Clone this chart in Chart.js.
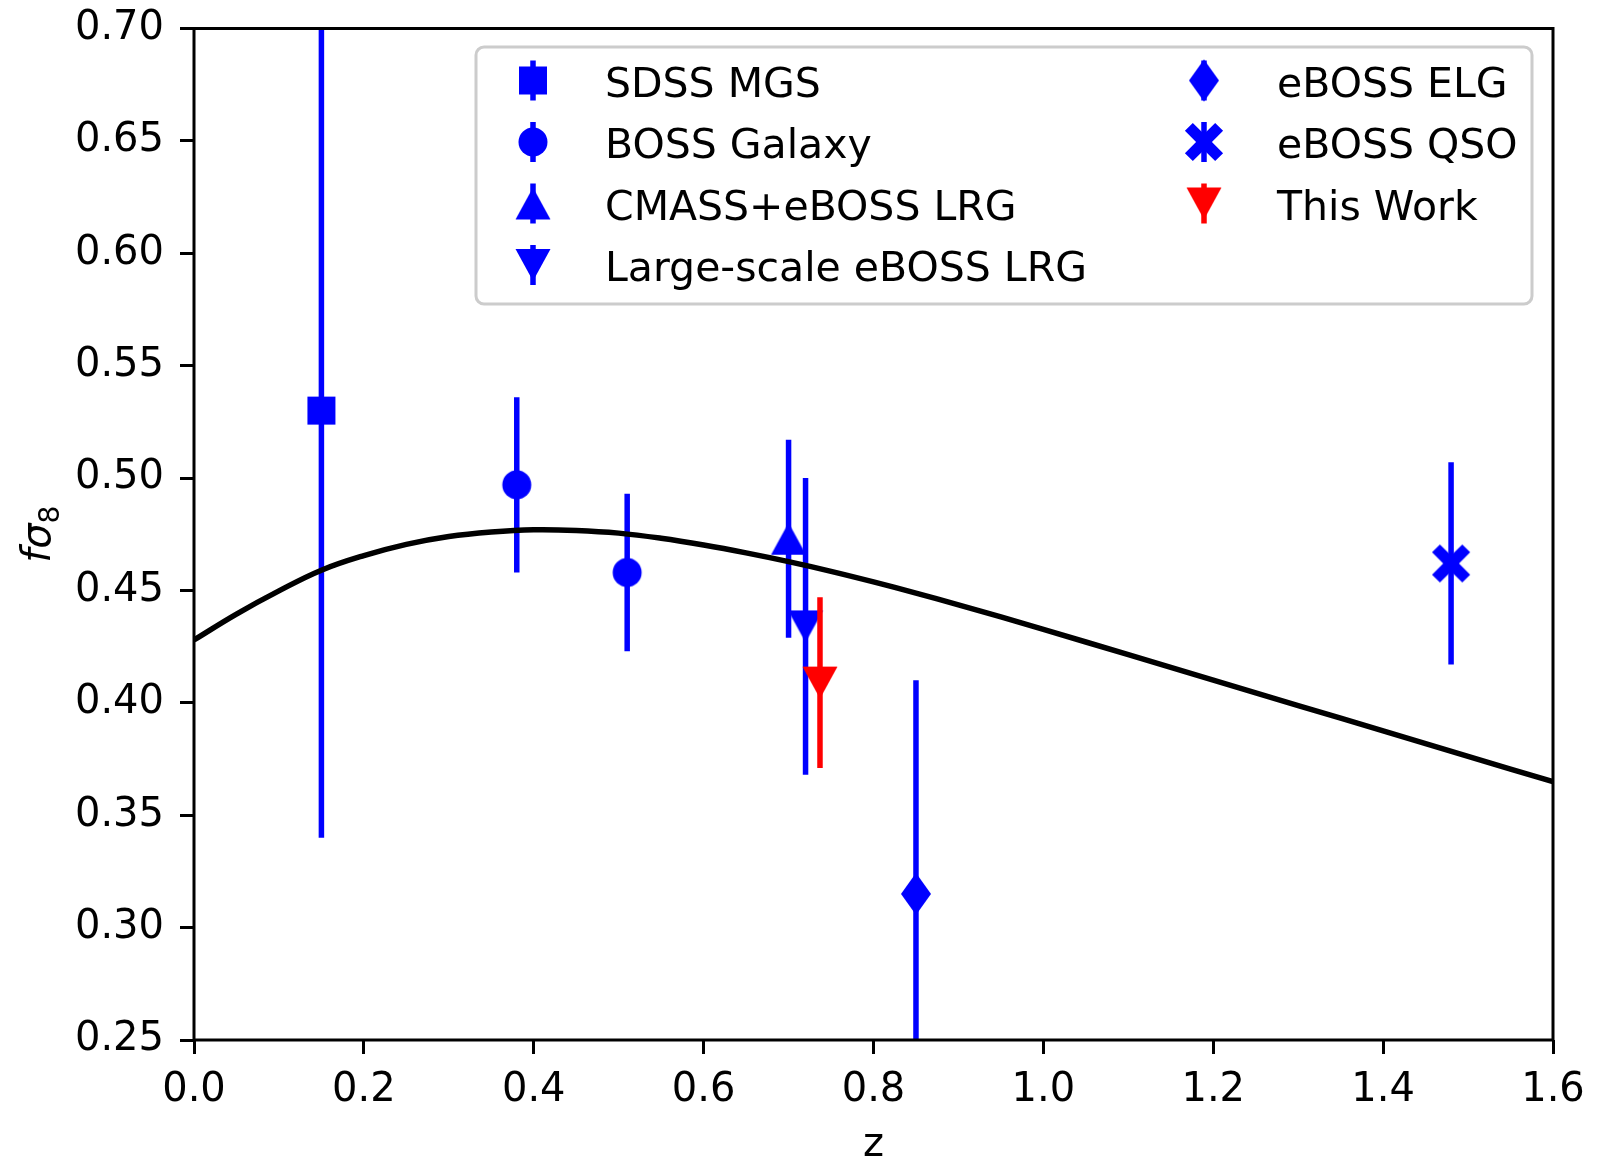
<!DOCTYPE html>
<html>
<head>
<meta charset="utf-8">
<script src="https://cdn.jsdelivr.net/npm/chart.js@4.4.1/dist/chart.umd.min.js"></script>
<style>
  html, body { margin: 0; padding: 0; background: #fff; }
  canvas { display: block; }
</style>
</head>
<body>
<canvas id="chart" width="1610" height="1158"></canvas>
<script>
// ---- data ----
const seriesNames = ['SDSS MGS', 'BOSS Galaxy', 'CMASS+eBOSS LRG', 'Large-scale eBOSS LRG', 'eBOSS ELG', 'eBOSS QSO', 'This Work'];
const seriesZ = [[0.15], [0.38, 0.51], [0.70], [0.72], [0.85], [1.48], [0.737]];
const seriesFs8 = [[0.530], [0.497, 0.458], [0.473], [0.434], [0.315], [0.462], [0.409]];
const seriesErr = [[0.19], [0.039, 0.035], [0.044], [0.066], [0.095], [0.045], [0.038]];

// LCDM prediction curve
const curveZ = [0, 0.05, 0.1, 0.15, 0.2, 0.25, 0.3, 0.35, 0.4, 0.45, 0.5, 0.55, 0.6, 0.65, 0.7, 0.75, 0.8, 0.85, 0.9, 0.95, 1.0, 1.1, 1.2, 1.3, 1.4, 1.5, 1.6];
const curveFs8 = [0.4280, 0.4395, 0.4498, 0.4590, 0.4655, 0.4705, 0.4740, 0.4760, 0.4770, 0.4767, 0.4755, 0.4732, 0.4702, 0.4667, 0.4628, 0.4585, 0.4538, 0.4488, 0.4436, 0.4382, 0.4327, 0.4214, 0.4101, 0.3988, 0.3875, 0.3762, 0.3649];

const xTicks = [0.0, 0.2, 0.4, 0.6, 0.8, 1.0, 1.2, 1.4, 1.6];
const yTicks = [0.25, 0.30, 0.35, 0.40, 0.45, 0.50, 0.55, 0.60, 0.65, 0.70];

// ---- styles ----
const COLORS = {
  blue: '#0000ff',
  red: '#ff0000',
  black: '#000000',
  legendEdge: '#cccccc',
};
const FONT = 'DejaVu Sans';
const seriesMarker = ['square', 'circle', 'triangleUp', 'triangleDown', 'thinDiamond', 'filledX', 'triangleDown'];
const seriesColor = [COLORS.blue, COLORS.blue, COLORS.blue, COLORS.blue, COLORS.blue, COLORS.blue, COLORS.red];

function makeMarker(shape, color) {
  const c = document.createElement('canvas');
  c.width = 48; c.height = 48;
  const g = c.getContext('2d');
  g.fillStyle = color;
  g.translate(24, 24);
  g.beginPath();
  if (shape === 'square') {
    g.rect(-14, -14, 28, 28);
  } else if (shape === 'circle') {
    g.arc(0, 0, 14.5, 0, Math.PI * 2);
  } else if (shape === 'triangleUp') {
    g.moveTo(0, -16); g.lineTo(17.5, 16); g.lineTo(-17.5, 16); g.closePath();
  } else if (shape === 'triangleDown') {
    g.moveTo(0, 16); g.lineTo(17.5, -16); g.lineTo(-17.5, -16); g.closePath();
  } else if (shape === 'thinDiamond') {
    g.moveTo(0, -21); g.lineTo(15, 0); g.lineTo(0, 21); g.lineTo(-15, 0); g.closePath();
  } else if (shape === 'filledX') {
    // plus shape rotated by 45 degrees
    const L = 21.4, h = 5.6;
    const pts = [[h, h], [L, h], [L, -h], [h, -h], [h, -L], [-h, -L], [-h, -h], [-L, -h], [-L, h], [-h, h], [-h, L], [h, L]];
    const r = Math.SQRT1_2;
    pts.forEach(([px, py], i) => {
      const qx = (px - py) * r, qy = (px + py) * r;
      if (i === 0) g.moveTo(qx, qy); else g.lineTo(qx, qy);
    });
    g.closePath();
  }
  g.fill();
  return c;
}

const markerImgs = seriesMarker.map((m, i) => makeMarker(m, seriesColor[i]));

// ---- datasets ----
// lower `order` is drawn on top; later series sit above earlier ones, curve above all
const datasets = [{
  label: 'model',
  data: curveZ.map((z, i) => ({ x: z, y: curveFs8[i] })),
  showLine: true,
  borderColor: COLORS.black,
  borderWidth: 5.5,
  pointRadius: 0,
  tension: 0.4,
  clip: 0,
  order: 0,
}];

seriesNames.forEach((name, i) => {
  const base = 2 * (seriesNames.length - 1 - i);
  seriesZ[i].forEach((z, j) => {
    datasets.push({
      label: name + ' err',
      data: [{ x: z, y: seriesFs8[i][j] - seriesErr[i][j] }, { x: z, y: seriesFs8[i][j] + seriesErr[i][j] }],
      showLine: true,
      borderColor: seriesColor[i],
      borderWidth: 5.5,
      borderCapStyle: 'butt',
      pointRadius: 0,
      clip: 0,
      order: base + 2,
    });
  });
  datasets.push({
    label: name,
    data: seriesZ[i].map((z, j) => ({ x: z, y: seriesFs8[i][j] })),
    showLine: false,
    pointStyle: markerImgs[i],
    pointRadius: 18,
    order: base + 1,
  });
});

// ---- frame, axis titles and legend ----
const decorPlugin = {
  id: 'decor',
  afterDatasetsDraw(chart) {
    const { ctx, chartArea: a } = chart;
    ctx.save();
    ctx.strokeStyle = COLORS.black;
    ctx.lineWidth = 3;
    ctx.strokeRect(a.left, a.top, a.right - a.left, a.bottom - a.top);
    ctx.restore();
  },
  afterDraw(chart) {
    const { ctx, chartArea: a } = chart;
    ctx.save();
    ctx.fillStyle = COLORS.black;

    // x label
    ctx.font = `40px "${FONT}"`;
    ctx.textAlign = 'center';
    ctx.textBaseline = 'alphabetic';
    ctx.fillText('z', (a.left + a.right) / 2, 1156);

    // y label: f sigma_8
    ctx.save();
    ctx.translate(50, (a.top + a.bottom) / 2);
    ctx.rotate(-Math.PI / 2);
    ctx.textAlign = 'left';
    const fItal = `italic 40px "${FONT}"`;
    const fSub = `28px "${FONT}"`;
    ctx.font = fItal;
    const wf = ctx.measureText('f').width;
    const ws = ctx.measureText('σ').width;
    ctx.font = fSub;
    const w8 = ctx.measureText('8').width;
    let x0 = -(wf + ws + w8) / 2;
    ctx.font = fItal;
    ctx.fillText('f', x0, 0);
    ctx.fillText('σ', x0 + wf, 0);
    ctx.font = fSub;
    ctx.fillText('8', x0 + wf + ws, 9);
    ctx.restore();

    // legend box
    const bx = 476, by = 47, bw = 1532 - 476, bh = 304 - 47;
    ctx.beginPath();
    ctx.roundRect(bx, by, bw, bh, 8);
    ctx.fillStyle = 'rgba(255,255,255,0.8)';
    ctx.fill();
    ctx.strokeStyle = COLORS.legendEdge;
    ctx.lineWidth = 3;
    ctx.stroke();

    const rows = [80.5, 142, 203.5, 265];
    const cols = [{ mx: 533, tx: 605 }, { mx: 1204, tx: 1277 }];
    ctx.font = `41px "${FONT}"`;
    ctx.textAlign = 'left';
    ctx.textBaseline = 'alphabetic';
    seriesNames.forEach((name, i) => {
      const col = cols[i < 4 ? 0 : 1];
      const cy = rows[i < 4 ? i : i - 4];
      ctx.strokeStyle = seriesColor[i];
      ctx.lineWidth = 5.5;
      ctx.beginPath();
      ctx.moveTo(col.mx, cy - 20);
      ctx.lineTo(col.mx, cy + 20);
      ctx.stroke();
      const img = markerImgs[i];
      ctx.drawImage(img, col.mx - img.width / 2, cy - img.height / 2);
      ctx.fillStyle = COLORS.black;
      ctx.fillText(name, col.tx, cy + 16);
    });
    ctx.restore();
  },
};

const tickFont = { family: FONT, size: 40 };
const axisGrid = {
  drawOnChartArea: false,
  drawTicks: true,
  tickLength: 14,
  tickWidth: 3,
  tickColor: COLORS.black,
};

new Chart(document.getElementById('chart'), {
  type: 'scatter',
  data: { datasets },
  plugins: [decorPlugin],
  options: {
    responsive: false,
    animation: false,
    events: [],
    layout: { padding: { left: 0, top: 28.5, right: 57, bottom: 0 } },
    plugins: {
      legend: { display: false },
      tooltip: { enabled: false },
    },
    scales: {
      x: {
        type: 'linear',
        min: 0,
        max: 1.6,
        afterBuildTicks: s => { s.ticks = xTicks.map(v => ({ value: v })); },
        afterFit: s => { s.height = 118; s.paddingLeft = 0; s.paddingRight = 0; },
        grid: axisGrid,
        border: { display: false },
        ticks: {
          color: COLORS.black,
          font: tickFont,
          padding: 13,
          maxRotation: 0,
          autoSkip: false,
          callback: v => Number(v).toFixed(1),
        },
      },
      y: {
        type: 'linear',
        min: 0.25,
        max: 0.70,
        afterBuildTicks: s => { s.ticks = yTicks.map(v => ({ value: v })); },
        afterFit: s => { s.width = 194; s.paddingTop = 0; s.paddingBottom = 0; },
        grid: axisGrid,
        border: { display: false },
        ticks: {
          color: COLORS.black,
          font: tickFont,
          padding: 16,
          autoSkip: false,
          callback: v => Number(v).toFixed(2),
        },
      },
    },
  },
});
</script>
</body>
</html>
